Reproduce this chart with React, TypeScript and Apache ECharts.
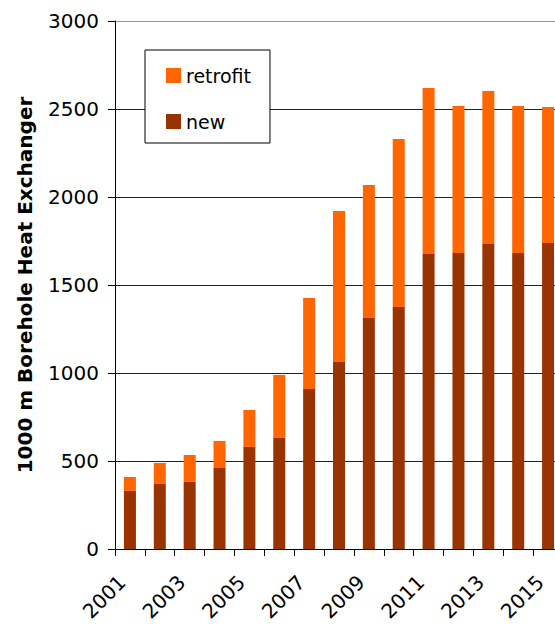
import React, { useEffect, useRef } from 'react';
import * as echarts from 'echarts';

const years = ['2001', '2002', '2003', '2004', '2005', '2006', '2007', '2008', '2009', '2010', '2011', '2012', '2013', '2014', '2015'];
const newValues = [330, 369, 381, 460, 580, 631, 909, 1063, 1313, 1375, 1676, 1682, 1733, 1682, 1739];
const retrofitValues = [79, 120, 153, 154, 210, 358, 517, 857, 755, 955, 943, 835, 869, 835, 772];
const seriesNames = ['retrofit', 'new'];
const yName = '1000 m Borehole Heat Exchanger';

const FONT = 'DejaVu Sans';

export default function App() {
  const ref = useRef<HTMLDivElement>(null);
  useEffect(() => {
    const chart = echarts.init(ref.current!, null, { renderer: 'svg' });
    chart.setOption({
      animation: false,
      backgroundColor: '#fff',
      grid: { left: 115, top: 21, bottom: 75, right: -8, containLabel: false, outerBoundsMode: 'none' },
      legend: {
        data: seriesNames,
        orient: 'vertical',
        left: 145,
        top: 50,
        padding: [16, 19, 12, 21],
        itemGap: 27,
        itemWidth: 15,
        itemHeight: 15,
        icon: 'rect',
        backgroundColor: '#fff',
        borderColor: '#000',
        borderWidth: 1,
        borderRadius: 0,
        z: 10,
        textStyle: { fontFamily: FONT, fontSize: 19, color: '#000', lineHeight: 15 },
      },
      xAxis: {
        type: 'category',
        data: years,
        boundaryGap: true,
        axisLine: { show: true, lineStyle: { color: '#000', width: 1 } },
        axisTick: { show: true, interval: 0, length: 7, lineStyle: { color: '#000' } },
        splitLine: { show: false },
        axisLabel: {
          interval: 1,
          rotate: 45,
          margin: 22,
          padding: [0, 11, 0, 0],
          fontFamily: FONT,
          fontSize: 20,
          color: '#000',
        },
      },
      yAxis: {
        type: 'value',
        min: 0,
        max: 3000,
        interval: 500,
        name: yName,
        nameLocation: 'middle',
        nameGap: 80,
        nameTextStyle: { fontFamily: FONT, fontSize: 20, fontWeight: 'bold', color: '#000' },
        axisLine: { show: true, lineStyle: { color: '#000', width: 1 } },
        axisTick: { show: true, length: 7, lineStyle: { color: '#000' } },
        axisLabel: {
          margin: 16,
          fontFamily: FONT,
          fontSize: 20,
          color: '#000',
          formatter: (v: number) => String(v),
        },
        splitLine: {
          show: true,
          lineStyle: {
            color: ['#000', '#222', '#222', '#222', '#222', '#222', '#999'],
            width: 1,
          },
        },
      },
      series: [
        {
          name: 'new',
          type: 'bar',
          stack: 'total',
          data: newValues,
          barWidth: 12,
          itemStyle: { color: '#993300' },
        },
        {
          name: 'retrofit',
          type: 'bar',
          stack: 'total',
          data: retrofitValues,
          barWidth: 12,
          itemStyle: { color: '#FF6600' },
        },
      ],
    });
    return () => chart.dispose();
  }, []);
  return (
    <div
      ref={ref}
      style={{ position: 'fixed', left: 0, top: 0, width: 555, height: 624, background: '#fff' }}
    />
  );
}
